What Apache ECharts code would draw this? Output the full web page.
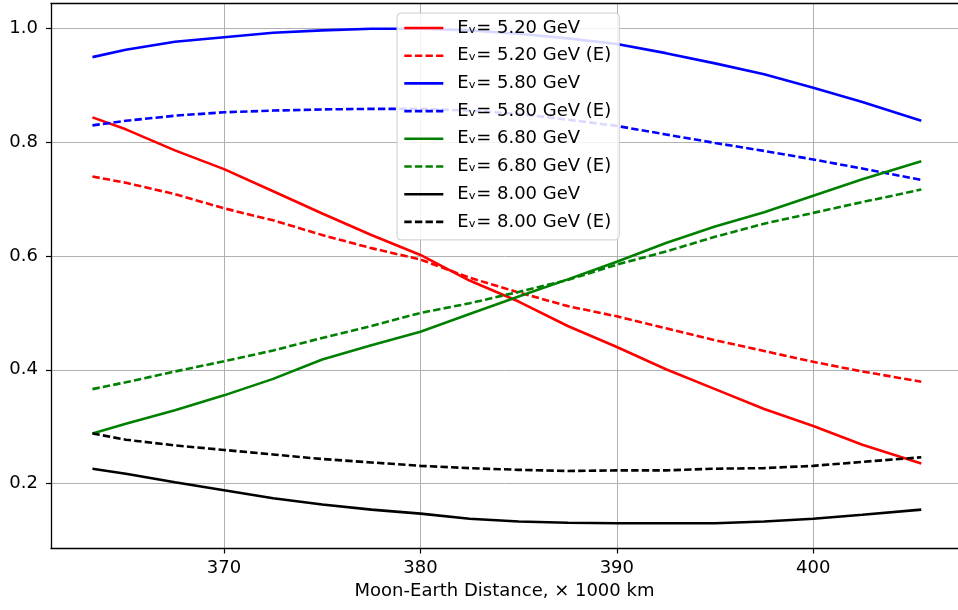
<!DOCTYPE html>
<html>
<head>
<meta charset="utf-8">
<script src="https://cdn.jsdelivr.net/npm/echarts@6/dist/echarts.min.js"></script>
<style>html,body{margin:0;padding:0;background:#fff}#c{width:958px;height:610px}</style>
</head>
<body>
<div id="c"></div>
<script>
const distance = [363.3, 365, 367.5, 370, 372.5, 375, 377.5, 380, 382.5, 385, 387.5, 390, 392.5, 395, 397.5, 400, 402.5, 405.5];
const red520   = [0.844, 0.823, 0.786, 0.753, 0.714, 0.675, 0.637, 0.602, 0.557, 0.520, 0.477, 0.440, 0.401, 0.366, 0.331, 0.301, 0.268, 0.235];
const red520E  = [0.740, 0.729, 0.709, 0.684, 0.663, 0.637, 0.614, 0.594, 0.562, 0.536, 0.512, 0.494, 0.473, 0.452, 0.433, 0.414, 0.397, 0.379];
const blue580  = [0.950, 0.963, 0.977, 0.985, 0.993, 0.997, 1.000, 1.000, 0.997, 0.991, 0.983, 0.973, 0.957, 0.939, 0.920, 0.896, 0.871, 0.838];
const blue580E = [0.830, 0.838, 0.847, 0.853, 0.856, 0.858, 0.859, 0.859, 0.856, 0.850, 0.840, 0.829, 0.814, 0.799, 0.785, 0.770, 0.754, 0.734];
const green680 = [0.288, 0.305, 0.329, 0.355, 0.384, 0.418, 0.443, 0.467, 0.498, 0.529, 0.559, 0.590, 0.623, 0.652, 0.677, 0.706, 0.735, 0.767];
const green680E= [0.366, 0.378, 0.397, 0.415, 0.434, 0.456, 0.477, 0.500, 0.517, 0.537, 0.558, 0.585, 0.608, 0.634, 0.657, 0.676, 0.695, 0.717];
const black800 = [0.226, 0.217, 0.202, 0.188, 0.174, 0.163, 0.154, 0.147, 0.138, 0.133, 0.131, 0.130, 0.130, 0.130, 0.133, 0.138, 0.145, 0.154];
const black800E= [0.288, 0.277, 0.267, 0.259, 0.251, 0.243, 0.237, 0.231, 0.227, 0.224, 0.222, 0.223, 0.223, 0.226, 0.227, 0.231, 0.238, 0.246];
const xTicks = [370, 380, 390, 400];
const yTicks = [0.2, 0.4, 0.6, 0.8, 1.0];
const seriesNames = ['Eᵥ= 5.20 GeV', 'Eᵥ= 5.20 GeV (E)', 'Eᵥ= 5.80 GeV', 'Eᵥ= 5.80 GeV (E)', 'Eᵥ= 6.80 GeV', 'Eᵥ= 6.80 GeV (E)', 'Eᵥ= 8.00 GeV', 'Eᵥ= 8.00 GeV (E)'];
const seriesValues = [red520, red520E, blue580, blue580E, green680, green680E, black800, black800E];
const seriesColors = ['#ff0000', '#ff0000', '#0000ff', '#0000ff', '#008000', '#008000', '#000000', '#000000'];
const seriesDashed = [false, true, false, true, false, true, false, true];

const FONT = 'DejaVu Sans';
const XMIN = 361.19, XMAX = 407.37, YMIN = 0.0856, YMAX = 1.0447;

const chart = echarts.init(document.getElementById('c'), null, {renderer: 'canvas'});
const series = seriesNames.map((n, i) => ({
  name: n,
  type: 'line',
  symbol: 'none',
  showSymbol: false,
  xAxisIndex: 0,
  data: distance.map((x, j) => [x, seriesValues[i][j]]),
  lineStyle: {color: seriesColors[i], width: 2.6, type: seriesDashed[i] ? [7.4, 3.2] : 'solid'},
  itemStyle: {color: seriesColors[i]},
  emphasis: {disabled: true}
}));

chart.setOption({
  animation: false,
  textStyle: {fontFamily: FONT},
  grid: {left: 51, right: 0, top: 3.3, bottom: 61.5, containLabel: false},
  legend: {
    orient: 'vertical',
    left: 397, top: 13,
    padding: [5, 8, 8, 6],
    itemWidth: 39, itemHeight: 20, itemGap: 7.7,
    itemTextGap: 14,
    itemStyle: {opacity: 0},
    lineStyle: {width: 2.6},
    backgroundColor: 'rgba(255,255,255,0.85)',
    borderColor: '#cccccc', borderWidth: 1, borderRadius: 4,
    textStyle: {fontFamily: FONT, fontSize: 18, color: '#000', lineHeight: 20, padding: [0, 0, 0, 9]},
    data: seriesNames.map(n => ({name: n}))
  },
  xAxis: [{
    type: 'value', min: XMIN, max: XMAX, position: 'bottom',
    name: 'Moon-Earth Distance, × 1000 km', nameLocation: 'middle', nameGap: 34,
    nameTextStyle: {fontFamily: FONT, fontSize: 18, color: '#000'},
    axisLine: {show: true, onZero: false, lineStyle: {color: '#000', width: 1.3}},
    axisTick: {show: true, length: 5, customValues: xTicks, lineStyle: {color: '#000', width: 1.2}},
    axisLabel: {customValues: xTicks, margin: 11, fontFamily: FONT, fontSize: 18, color: '#000', formatter: v => String(Math.round(v))},
    splitLine: {show: true, lineStyle: {color: '#b0b0b0', width: 1}}
  }, {
    type: 'value', min: XMIN, max: XMAX, position: 'top',
    axisLine: {show: true, onZero: false, lineStyle: {color: '#000', width: 1.3}},
    axisTick: {show: false}, axisLabel: {show: false}, splitLine: {show: false}
  }],
  yAxis: {
    type: 'value', min: YMIN, max: YMAX,
    axisLine: {show: true, onZero: false, lineStyle: {color: '#000', width: 1.3}},
    axisTick: {show: true, length: 5, customValues: yTicks, lineStyle: {color: '#000', width: 1.2}},
    axisLabel: {customValues: yTicks, margin: 13, fontFamily: FONT, fontSize: 18, color: '#000', formatter: v => v.toFixed(1)},
    splitLine: {show: true, lineStyle: {color: '#b0b0b0', width: 1}}
  },
  series: series
});
</script>
</body>
</html>
